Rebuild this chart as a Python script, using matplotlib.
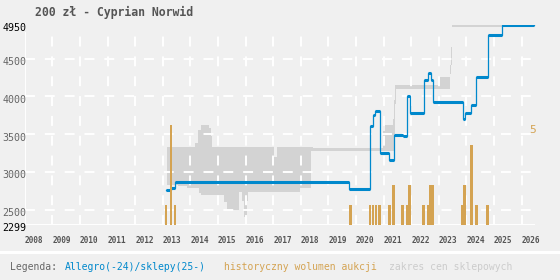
import numpy as np
import matplotlib
matplotlib.use("Agg")
import matplotlib.pyplot as plt
from matplotlib.lines import Line2D
import matplotlib.transforms as mtransforms

# Allegro price steps (decimal year, price zl)
allegro_t = [2013.12, 2013.29, 2013.44, 2019.76, 2020.52, 2020.60, 2020.69, 2020.87,
             2021.19, 2021.36, 2021.70, 2021.85, 2021.96, 2022.46, 2022.61, 2022.70,
             2022.79, 2023.86, 2023.95, 2024.18, 2024.36, 2024.78, 2025.27, 2026.45]
allegro_p = [2760, 2790, 2865, 2770, 3610, 3755, 3805, 3250,
             3160, 3490, 3475, 4005, 3780, 4215, 4305, 4215,
             3925, 3705, 3780, 3880, 4255, 4810, 4950, 4950]

# shop price range (decimal year, low, high)
shop_t = [2013.14, 2013.54, 2013.87, 2014.17, 2014.28, 2014.31, 2014.39, 2014.68,
          2014.73, 2014.78, 2015.23, 2015.31, 2015.76, 2015.87, 2015.93, 2016.04,
          2016.08, 2017.03, 2017.14, 2017.97, 2018.37, 2018.43, 2020.99, 2021.06,
          2021.34, 2021.38, 2021.42, 2021.45, 2022.98, 2023.42, 2023.45, 2023.47,
          2026.45]
shop_lo = [2830, 2810, 2780, 2780, 2780, 2720, 2690, 2690,
           2690, 2690, 2600, 2500, 2735, 2620, 2400, 2620,
           2735, 2735, 2735, 2780, 3275, 3275, 3275, 3275,
           3275, 3500, 3900, 4100, 4100, 4300, 4420, 4918,
           4918]
shop_hi = [3325, 3325, 3325, 3385, 3550, 3550, 3625, 3580,
           3470, 3325, 3325, 3325, 3325, 3325, 3325, 3325,
           3325, 3200, 3325, 3325, 3325, 3318, 3545, 3620,
           3700, 3950, 4148, 4148, 4260, 4420, 4650, 4962,
           4962]

# monthly auction volume (decimal year, count)
vol_t = [2013.12, 2013.29, 2013.45, 2019.80, 2020.515, 2020.617, 2020.715, 2020.85,
         2021.21, 2021.36, 2021.68, 2021.85, 2021.94, 2022.44, 2022.60, 2022.69,
         2022.78, 2023.84, 2023.93, 2024.18, 2024.36, 2024.76]
vol_n = [1, 5, 1, 1, 1, 1, 1, 1,
         1, 2, 1, 1, 2, 1, 1, 2,
         2, 1, 2, 4, 1, 1]

years = list(range(2008, 2027))
y_ticks = [2500, 3000, 3500, 4000, 4500]
y_min, y_max = 2299, 4950

BG = '#f0f0f0'
BLUE = '#0088cc'
ORANGE = '#d4a352'
GRAY = '#d3d3d3'
MONO = 'DejaVu Sans Mono'

W, H = 560, 280
fig = plt.figure(figsize=(W / 100, H / 100), dpi=100, facecolor=BG)

# axes placement in pixels
x0px, x1px = 24.7, 540.0
ytop, ybot = 24.6, 224.8
px_per_year = 27.61
ax = fig.add_axes([x0px / W, 1 - ybot / H, (x1px - x0px) / W, (ybot - ytop) / H])
ax.set_facecolor('none')
xmax = 2008 + (x1px - x0px) / px_per_year
ax.set_xlim(2008, xmax)
ax.set_ylim(y_min, y_max)
for s in ax.spines.values():
    s.set_visible(False)
ax.set_xticks([])
ax.set_yticks([])

dash = (0, (5.1, 5.1))
ax.hlines(y_ticks, 2008, xmax - 0.1, colors='white', lw=1.4, linestyles=[dash])
ax.vlines(years[1:], y_min, 4840, colors='white', lw=1.4, linestyles=[dash])
ax.plot([2008, 2008], [y_min, 4840], color='white', lw=1.4)
ax.plot([2008, xmax - 0.2], [y_min, y_min], color='white', lw=1.4)

# shop range band
ax.fill_between(shop_t, shop_lo, shop_hi, step='post', color=GRAY, lw=0)

# allegro price: thin steps + thick plateaus
ax.plot(allegro_t, allegro_p, drawstyle='steps-post', color=BLUE, lw=0.9)
ax.hlines(allegro_p[:-1], allegro_t[:-1], allegro_t[1:], colors=BLUE, lw=2.2)

# volume bars on a second axis
ax2 = ax.twinx()
ax2.set_ylim(0, (ybot - ytop) / 19.96)
ax2.axis('off')
ax2.bar(vol_t, vol_n, width=0.09, color=ORANGE, lw=0)
ax2.text(2026.39, max(vol_n), str(max(vol_n)), color=ORANGE, ha='center', va='top',
         fontsize=8, family=MONO)

# y labels
tr = mtransforms.blended_transform_factory(ax.transAxes, ax.transData)
for v in [y_max] + y_ticks + [y_min]:
    col = 'black' if v in (y_min, y_max) else '#666666'
    ax.annotate(str(v), xy=(0, v), xycoords=tr, xytext=(1.2, -2.6),
                textcoords='offset points', ha='right', va='center',
                fontsize=7.2, family=MONO, color=col, annotation_clip=False)

# x labels
for yr in years:
    ax.annotate(str(yr), xy=(yr, y_min), xytext=(0, -8.2), textcoords='offset points',
                ha='left', va='top', fontsize=5.6, family=MONO, fontweight='bold',
                color='#555555', annotation_clip=False)

fig.text(35 / W, 1 - 12 / H, '200 zł - Cyprian Norwid', ha='left', va='center',
         fontsize=8.3, family=MONO, fontweight='bold', color='#555555')

# legend strip
fig.add_artist(Line2D([0, 1], [1 - 251.5 / H] * 2, color='white', lw=2.2))
ly = 1 - 267 / H
fig.text(10 / W, ly, 'Legenda:', ha='left', va='center', fontsize=7, family=MONO, color='#666666')
fig.text(65 / W, ly, 'Allegro(-24)/sklepy(25-)', ha='left', va='center', fontsize=7,
         family=MONO, color=BLUE)
fig.text(224 / W, ly, 'historyczny wolumen aukcji', ha='left', va='center', fontsize=7,
         family=MONO, color=ORANGE)
fig.text(389 / W, ly, 'zakres cen sklepowych', ha='left', va='center', fontsize=7,
         family=MONO, color='#cccccc')

fig.savefig('out.png', dpi=100, facecolor=BG)
